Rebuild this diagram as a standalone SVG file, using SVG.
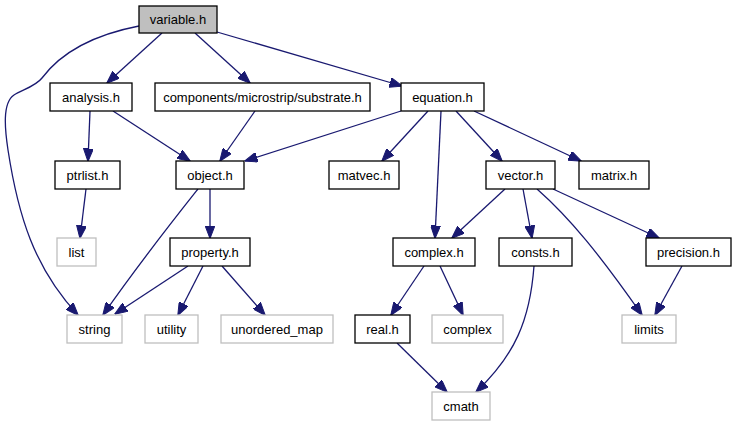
<svg xmlns="http://www.w3.org/2000/svg" width="737" height="427" viewBox="0 0 737 427">
  <style>
    .node rect { fill: #ffffff; stroke: #000000; stroke-width: 1.3; }
    .node.ext rect { stroke: #bfbfbf; }
    .node.root rect { fill: #bfbfbf; }
    .node text { font-family: "Liberation Sans", Arial, sans-serif; font-size: 13px; fill: #000000; text-anchor: middle; }
    #edges path { fill: none; stroke: #191970; stroke-width: 1.3; marker-end: url(#arrow); }
  </style>
  <defs>
    <marker id="arrow" viewBox="0 0 13 10" refX="12.5" refY="5" markerWidth="13" markerHeight="10" markerUnits="userSpaceOnUse" orient="auto">
      <path d="M0,0 L13,5 L0,10 Z" fill="#191970" stroke="#191970" stroke-width="1"/>
    </marker>
  </defs>

  <g id="edges">
    <!-- variable.h -->
    <path d="M162,33 L107,83"/>
    <path d="M195,33 L250,83"/>
    <path d="M217,32 L402,86"/>
    <path d="M139,26 C108,32 66,46 42,78 C36,86 22,90 14,95 C2,103 5,130 8,150 C18,215 34,268 78,315"/>
    <!-- analysis.h -->
    <path d="M90,111 L88,161"/>
    <path d="M113,111 L190,161"/>
    <!-- substrate.h -->
    <path d="M255,111 L220,161"/>
    <!-- equation.h -->
    <path d="M401,111 L245,161"/>
    <path d="M428,111 L382,161"/>
    <path d="M441,111 L435,238"/>
    <path d="M456,111 L502,161"/>
    <path d="M474,111 L581,161"/>
    <!-- ptrlist.h -->
    <path d="M86,189 L80,238"/>
    <!-- object.h -->
    <path d="M210,189 L210,238"/>
    <path d="M198,189 C175,218 140,262 103,315"/>
    <!-- property.h -->
    <path d="M188,266 L115,314"/>
    <path d="M203,266 L178,315"/>
    <path d="M222,266 L265,315"/>
    <!-- vector.h -->
    <path d="M505,189 L452,238"/>
    <path d="M523,189 L532,238"/>
    <path d="M537,189 C570,218 600,255 642,315"/>
    <path d="M553,189 L659,238"/>
    <!-- complex.h -->
    <path d="M424,266 L391,315"/>
    <path d="M440,266 L463,315"/>
    <!-- consts.h -->
    <path d="M534,266 C530,320 515,355 476,392"/>
    <!-- real.h -->
    <path d="M397,343 L447,392"/>
    <!-- precision.h -->
    <path d="M682,266 L655,315"/>
  </g>

  <g id="variable_h" class="node root"><rect x="139" y="6" width="78" height="27"/><text x="178" y="24">variable.h</text></g>
  <g id="analysis_h" class="node"><rect x="50" y="83" width="82" height="28"/><text x="91" y="101.5">analysis.h</text></g>
  <g id="substrate_h" class="node"><rect x="155" y="83" width="215" height="28"/><text x="262.5" y="101.5">components/microstrip/substrate.h</text></g>
  <g id="equation_h" class="node"><rect x="401" y="83" width="83" height="28"/><text x="442.5" y="101.5">equation.h</text></g>
  <g id="ptrlist_h" class="node"><rect x="55" y="161" width="65" height="28"/><text x="87.5" y="179.5">ptrlist.h</text></g>
  <g id="object_h" class="node"><rect x="176" y="161" width="68" height="28"/><text x="210" y="179.5">object.h</text></g>
  <g id="matvec_h" class="node"><rect x="329" y="161" width="70" height="28"/><text x="364" y="179.5">matvec.h</text></g>
  <g id="vector_h" class="node"><rect x="486" y="161" width="69" height="28"/><text x="520.5" y="179.5">vector.h</text></g>
  <g id="matrix_h" class="node"><rect x="579" y="161" width="70" height="28"/><text x="614" y="179.5">matrix.h</text></g>
  <g id="list" class="node ext"><rect x="57" y="238" width="39" height="28"/><text x="76.5" y="256.5">list</text></g>
  <g id="property_h" class="node"><rect x="170" y="238" width="80" height="28"/><text x="210" y="256.5">property.h</text></g>
  <g id="complex_h" class="node"><rect x="393" y="238" width="82" height="28"/><text x="434" y="256.5">complex.h</text></g>
  <g id="consts_h" class="node"><rect x="499" y="238" width="73" height="28"/><text x="535.5" y="256.5">consts.h</text></g>
  <g id="precision_h" class="node"><rect x="646" y="238" width="85" height="28"/><text x="688.5" y="256.5">precision.h</text></g>
  <g id="string" class="node ext"><rect x="67" y="315" width="55" height="28"/><text x="94.5" y="333.5">string</text></g>
  <g id="utility" class="node ext"><rect x="145" y="315" width="53" height="28"/><text x="171.5" y="333.5">utility</text></g>
  <g id="unordered_map" class="node ext"><rect x="221" y="315" width="112" height="28"/><text x="277" y="333.5">unordered_map</text></g>
  <g id="real_h" class="node"><rect x="355" y="315" width="55" height="28"/><text x="382.5" y="333.5">real.h</text></g>
  <g id="complex" class="node ext"><rect x="432" y="315" width="71" height="28"/><text x="467.5" y="333.5">complex</text></g>
  <g id="limits" class="node ext"><rect x="622" y="315" width="54" height="28"/><text x="649" y="333.5">limits</text></g>
  <g id="cmath" class="node ext"><rect x="432" y="392" width="58" height="28"/><text x="461" y="410.5">cmath</text></g>
</svg>
